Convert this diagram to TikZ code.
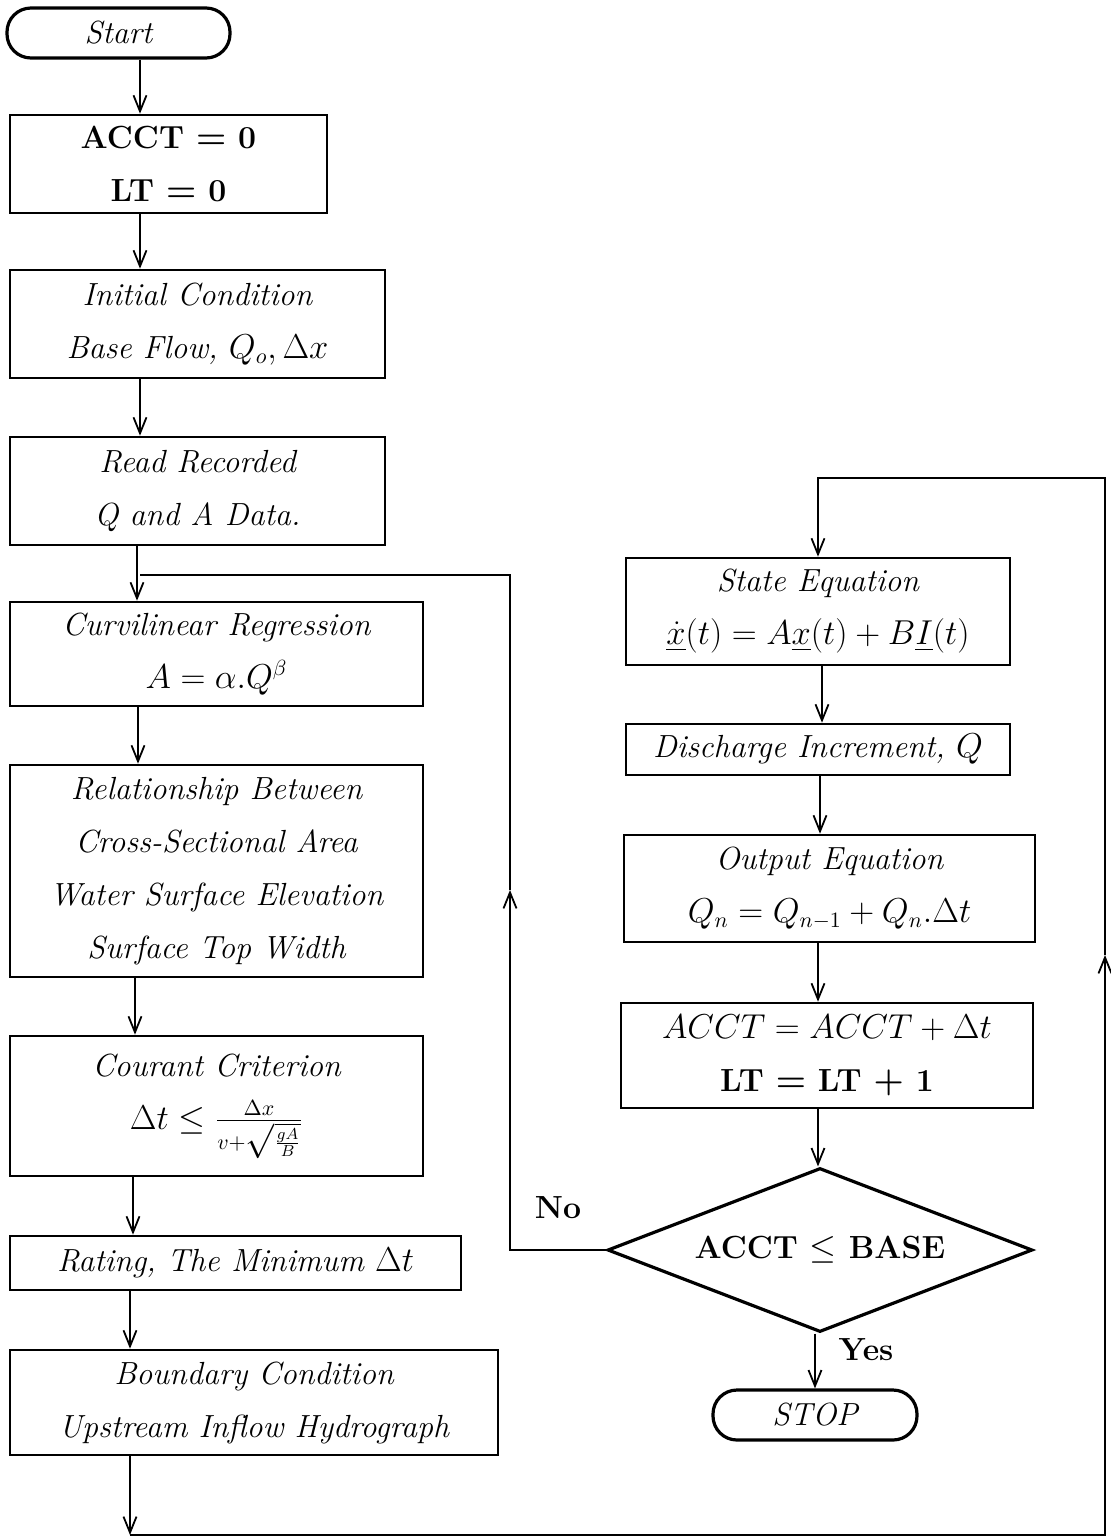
\documentclass[tikz,border=0pt]{standalone}
\usepackage{amsmath,amssymb}
\usepackage{tikz}
\usetikzlibrary{arrows.meta, shapes.geometric}

\tikzset{
  flowbox/.style={draw, line width=1.3pt, align=center, inner sep=0pt,
    font=\fontsize{16}{26.5}\selectfont\itshape},
  terminal/.style={draw, line width=1.6pt, rounded corners=12pt, inner sep=0pt,
    font=\fontsize{16}{19}\selectfont\itshape},
  decision/.style={draw, diamond, aspect=2.6, line width=1.6pt, inner sep=0pt,
    font=\fontsize{16}{19}\selectfont\bfseries},
  link/.style={line width=0.9pt},
  tag/.style={font=\fontsize{16}{19}\selectfont\bfseries},
}

\begin{document}
\begin{tikzpicture}[x=0.5pt, y=-0.5pt, >={Straight Barb[length=8pt, width=6.5pt]}]
    \useasboundingbox (0,0) rectangle (1110,1538);

    % left column
    \node[terminal, minimum width=111.5pt, minimum height=25pt] (start) at (118.5,33) {Start};
    \node[flowbox, minimum width=158.5pt, minimum height=49pt] (acct) at (168.5,164)
        {{\upshape\bfseries\boldmath ACCT $=$ 0}\\{\upshape\bfseries\boldmath LT $=$ 0}};
    \node[flowbox, minimum width=187.5pt, minimum height=54pt] (init) at (197.5,324)
        {Initial Condition\\Base Flow, $Q_o, \Delta x$};
    \node[flowbox, minimum width=187.5pt, minimum height=54pt] (read) at (197.5,491)
        {Read Recorded\\Q and A Data.};
    \node[flowbox, minimum width=206.5pt, minimum height=52pt] (curv) at (216.5,654)
        {Curvilinear Regression\\$A = \alpha.Q^{\beta}$};
    \node[flowbox, minimum width=206.5pt, minimum height=106pt] (rel) at (216.5,871)
        {Relationship Between\\Cross-Sectional Area\\Water Surface Elevation\\Surface Top Width};
    \node[flowbox, minimum width=206.5pt, minimum height=70pt] (cour) at (216.5,1106)
        {Courant Criterion\\$\Delta t \leq \frac{\Delta x}{v+\sqrt{\frac{gA}{B}}}$};
    \node[flowbox, minimum width=225.5pt, minimum height=27pt] (rate) at (235.5,1263)
        {Rating, The Minimum $\Delta t$};
    \node[flowbox, minimum width=244pt, minimum height=52.5pt] (bnd) at (254,1402.5)
        {Boundary Condition\\Upstream Inflow Hydrograph};

    % right column
    \node[flowbox, minimum width=192pt, minimum height=53.5pt] (state) at (818,611.5)
        {State Equation\\$\underline{\dot{x}}(t) = A\underline{x}(t) + B\underline{I}(t)$};
    \node[flowbox, minimum width=192pt, minimum height=25.5pt] (dis) at (818,749.5)
        {Discharge Increment, $Q$};
    \node[flowbox, minimum width=205.5pt, minimum height=53.5pt] (out) at (829.5,888.5)
        {Output Equation\\$Q_n = Q_{n-1} + Q_n.\Delta t$};
    \node[flowbox, minimum width=206pt, minimum height=52.5pt] (acc2) at (827,1055.5)
        {$ACCT = ACCT + \Delta t$\\{\upshape\bfseries\boldmath LT $=$ LT $+$ 1}};
    \node[decision, minimum width=212.5pt, minimum height=82pt] (dec) at (820,1250)
        {ACCT {\mdseries$\leq$} BASE};
    \node[terminal, minimum width=102pt, minimum height=25pt] (stop) at (815,1415) {STOP};

    \node[tag] (no) at (558,1208) {No};
    \node[tag] (yes) at (866,1350) {Yes};

    % straight links
    \foreach \a/\b/\x in {start/acct/140, acct/init/140, init/read/140, read/curv/137,
                          curv/rel/138, rel/cour/135, cour/rate/133, rate/bnd/130,
                          state/dis/822, dis/out/820, out/acc2/818, acc2/dec/818, dec/stop/815}
        \draw[link, ->] (\a.south -| \x,0) -- (\b.north -| \x,0);

    % loop back on No
    \coordinate (noarr) at (510,890);
    \coordinate (notop) at (510,575);
    \coordinate (nojoin) at (140,575);
    \draw[link, ->] (dec.west) -| (noarr);
    \draw[link] (noarr) -- (notop) -- (nojoin);

    % loop from boundary condition to state equation
    \coordinate (lowleft) at (130,1535);
    \coordinate (lowright) at (1105,1535);
    \coordinate (uparr) at (1105,955);
    \coordinate (topright) at (1105,478);
    \draw[link, ->] (bnd.south -| lowleft) -- (lowleft);
    \draw[link, ->] (lowleft) -- (lowright) -- (uparr);
    \draw[link, ->] (uparr) -- (topright) -| (state.north);
\end{tikzpicture}
\end{document}
